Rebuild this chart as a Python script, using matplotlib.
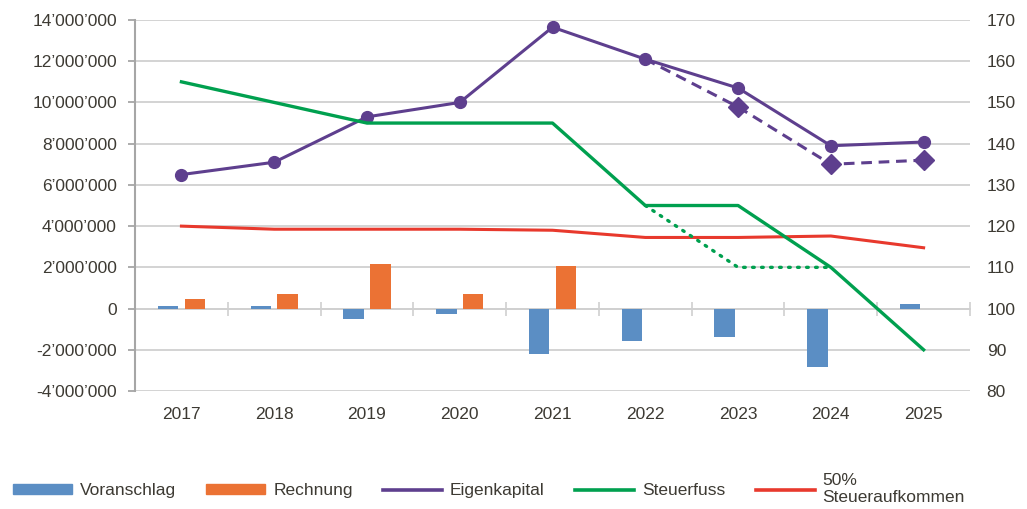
import numpy as np
import matplotlib
matplotlib.use('Agg')
import matplotlib.pyplot as plt
from matplotlib.ticker import FuncFormatter, MultipleLocator
from matplotlib.lines import Line2D
from matplotlib.patches import Patch

plt.rcParams['font.family'] = ['Liberation Sans', 'DejaVu Sans']
plt.rcParams['font.size'] = 12.5

# Data (CHF values in millions, tax rate in %)
years = ['2017', '2018', '2019', '2020', '2021', '2022', '2023', '2024', '2025']
voranschlag = [0.13, 0.13, -0.50, -0.27, -2.20, -1.55, -1.40, -2.84, 0.22]
rechnung = [0.46, 0.70, 2.17, 0.70, 2.07, np.nan, np.nan, np.nan, np.nan]
eigenkapital = [6.50, 7.10, 9.30, 10.00, 13.65, 12.10, 10.70, 7.90, 8.08]
eigenkapital_alt_years = ['2022', '2023', '2024', '2025']
eigenkapital_alt = [12.10, 9.78, 7.00, 7.20]
steuerfuss = [155, 150, 145, 145, 145, 125, 125, 110, 90]
steuerfuss_alt_years = ['2022', '2023', '2024']
steuerfuss_alt = [125, 110, 110]
steueraufkommen = [4.00, 3.85, 3.85, 3.85, 3.80, 3.45, 3.45, 3.52, 2.95]

# colours
c_blue = '#5b8ec4'
c_orange = '#eb7234'
c_purple = '#5e3f8e'
c_green = '#00a04f'
c_red = '#e8392d'
c_grid = '#d0d0d0'
c_axis = '#a6a6a6'
c_text = '#3d3a33'

x = np.arange(len(years))
pos = {y: i for i, y in enumerate(years)}
x_ek_alt = [pos[y] for y in eigenkapital_alt_years]
x_sf_alt = [pos[y] for y in steuerfuss_alt_years]
mio = 1e6

fig = plt.figure(figsize=(10.27, 5.09), dpi=100)
ax = fig.add_axes([0.1315, 0.2318, 0.8130, 0.7289])
ax2 = ax.twinx()

ymin, ymax = -4 * mio, 14 * mio
ax.set_xlim(-0.5, len(years) - 0.5)
ax.set_ylim(ymin, ymax)
ax.yaxis.set_major_locator(MultipleLocator(2 * mio))
ax.yaxis.set_major_formatter(FuncFormatter(lambda v, p: f"{v:,.0f}".replace(',', '\u2019')))
ax.grid(axis='y', color=c_grid, linewidth=1.3)
ax.set_axisbelow(True)

bw = 0.22
ax.bar(x - 0.145, np.array(voranschlag) * mio, width=bw, color=c_blue, zorder=2)
ax.bar(x + 0.145, np.array(rechnung) * mio, width=bw, color=c_orange, zorder=2)

ax.plot(x, np.array(steueraufkommen) * mio, color=c_red, lw=2.2, zorder=3)
ax.plot(x_ek_alt, np.array(eigenkapital_alt) * mio, color=c_purple, lw=2.2, ls=(0, (3.5, 2.2)),
        marker='D', markersize=10, markevery=[1, 2, 3], zorder=4)
ax.plot(x, np.array(eigenkapital) * mio, color=c_purple, lw=2.2, marker='o', markersize=8.5,
        zorder=5)

ax2.set_ylim(80, 170)
ax2.yaxis.set_major_locator(MultipleLocator(10))
ax2.plot(x_sf_alt, steuerfuss_alt, color=c_green, lw=2.4, ls=(0, (0.5, 2.2)),
         dash_capstyle='round', zorder=3)
ax2.plot(x, steuerfuss, color=c_green, lw=2.4, zorder=3)

# axes styling
for s in ['top', 'right', 'bottom']:
    ax.spines[s].set_visible(False)
for s in ax2.spines.values():
    s.set_visible(False)
ax.spines['left'].set_color(c_axis)
ax.spines['left'].set_linewidth(1.5)
ax.tick_params(axis='y', length=5, width=1.3, color=c_axis, pad=8, labelcolor=c_text)
ax.set_xticks(x, years)
ax.tick_params(axis='x', length=0, pad=11.5, labelcolor=c_text)
ax2.tick_params(axis='y', length=0, pad=12, labelcolor=c_text)

# category axis crossing at zero with tick marks between categories
zero_frac = (0 - ymin) / (ymax - ymin)
sec = ax.secondary_xaxis(zero_frac)
sec.set_xticks(np.arange(-0.5, len(years), 1.0))
sec.tick_params(direction='inout', length=10, width=1.2, color=c_grid, labelbottom=False,
                labeltop=False)
sec.spines['bottom'].set_color(c_grid)
sec.spines['bottom'].set_linewidth(1.3)
sec.spines['top'].set_visible(False)

handles = [Patch(color=c_blue), Patch(color=c_orange),
           Line2D([], [], color=c_purple, lw=2.6), Line2D([], [], color=c_green, lw=2.6),
           Line2D([], [], color=c_red, lw=2.6)]
labels = ['Voranschlag', 'Rechnung', 'Eigenkapital', 'Steuerfuss', '50%\nSteueraufkommen']
fig.legend(handles, labels, loc='center', bbox_to_anchor=(0.476, 0.039),
           ncol=5, frameon=False, handlelength=3.4, handleheight=0.5, columnspacing=1.75,
           handletextpad=0.45, labelcolor=c_text, fontsize=12.5)

fig.savefig('out.png', dpi=100)
